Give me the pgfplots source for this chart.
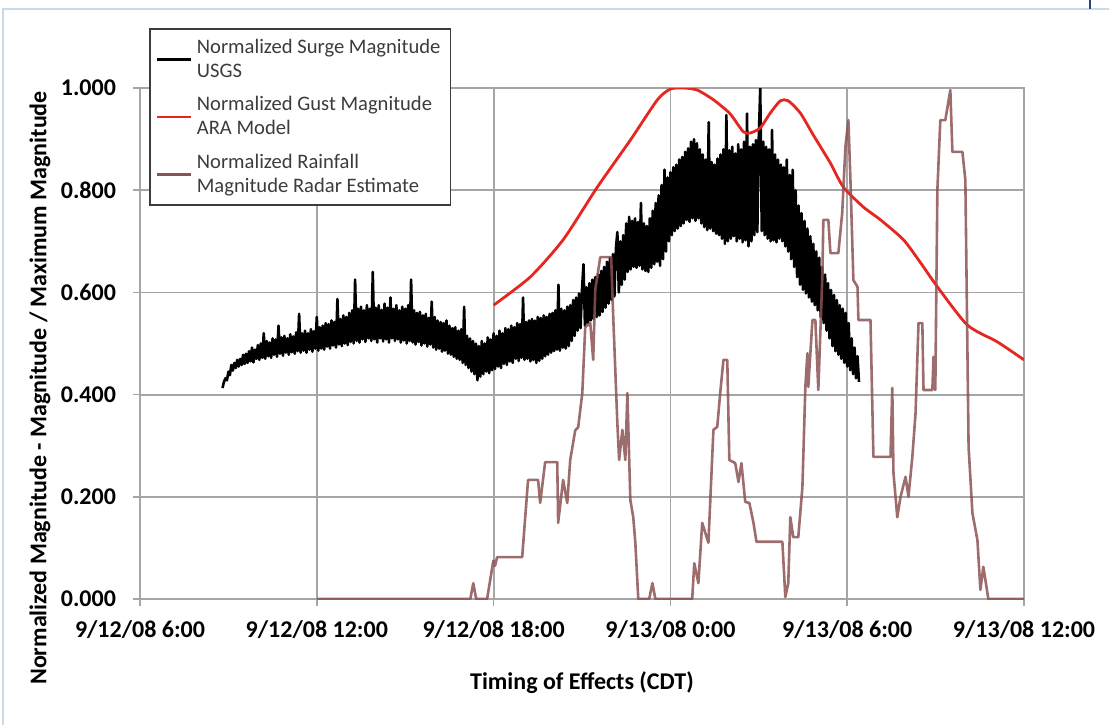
\documentclass[border=0pt]{standalone}
\usepackage{fontspec}
\setmainfont{Carlito}
\usepackage{pgfplots}
\pgfplotsset{compat=1.18}
\definecolor{gustred}{RGB}{230,38,32}
\definecolor{rainbrown}{RGB}{140,82,82}
\definecolor{gridgray}{RGB}{165,165,165}
\definecolor{framblue}{RGB}{200,218,235}
\definecolor{legtext}{RGB}{60,60,60}
\definecolor{markblue}{RGB}{40,70,120}
\begin{document}
\begin{tikzpicture}
\path[use as bounding box] (-70pt,-63pt) rectangle (484.5pt,299.5pt);
\draw[framblue,line width=0.8pt] (-68.5pt,-63pt) -- (-68.5pt,295pt) -- (484.5pt,295pt);
\draw[markblue,line width=0.6pt] (475pt,295pt) -- (475pt,299.5pt);
\begin{axis}[
  scale only axis,
  width=442pt, height=255.5pt,
  at={(0,0)}, anchor=south west,
  xmin=6, xmax=36, ymin=0, ymax=1,
  xtick={6,12,18,24,30,36},
  xticklabels={9/12/08 6:00,9/12/08 12:00,9/12/08 18:00,9/13/08 0:00,9/13/08 6:00,9/13/08 12:00},
  ytick={0,0.2,0.4,0.6,0.8,1},
  yticklabel style={xshift=-5pt, /pgf/number format/.cd,fixed,fixed zerofill,precision=3,assume math mode=true},
  ticklabel style={font=\fontsize{12}{14}\selectfont\bfseries},
  xticklabel style={yshift=-4pt},
  tick align=center, tick pos=left,
  major tick length=7pt,
  tick style={gridgray, line width=0.8pt},
  grid=major,
  major grid style={gridgray, line width=0.9pt},
  axis line style={gridgray, line width=0.9pt},
  xlabel={Timing of Effects (CDT)},
  ylabel={Normalized Magnitude - Magnitude / Maximum Magnitude},
  label style={font=\fontsize{12}{14}\selectfont\bfseries},
  xlabel style={at={(axis description cs:0.5,-0.164)}, anchor=center},
  ylabel style={at={(axis description cs:-0.113,0.413)}, anchor=center},
  legend style={at={(0.0102,1.117)}, anchor=north west, draw=legtext, line width=0.9pt, fill=white,
    font=\fontsize{10.3}{12}\selectfont, text=legtext, cells={align=left, anchor=west},
    row sep=4pt, inner xsep=3pt, inner ysep=3pt},
  legend cell align=left,
  legend image code/.code={\draw[#1, line width=1.4pt, opacity=1] (0cm,0cm) -- (0.6cm,0cm);},
  clip=true,
]
% Surge (black)
\addplot[black, line width=1.3pt, line join=round] coordinates {
(8.80,0.413) (8.85,0.425) (8.90,0.432) (8.95,0.428) (9.00,0.445) (9.05,0.438) (9.10,0.458) (9.15,0.447) (9.20,0.462) (9.25,0.452)
(9.30,0.468) (9.35,0.455) (9.40,0.470) (9.45,0.458) (9.50,0.478) (9.55,0.460) (9.60,0.480) (9.65,0.462) (9.70,0.485) (9.75,0.465)
(9.80,0.492) (9.85,0.463) (9.90,0.488) (9.95,0.470) (10.00,0.497) (10.05,0.468) (10.10,0.500) (10.15,0.472) (10.20,0.520) (10.25,0.470)
(10.30,0.505) (10.35,0.475) (10.40,0.502) (10.45,0.472) (10.50,0.510) (10.55,0.478) (10.60,0.508) (10.65,0.474) (10.70,0.535) (10.75,0.480)
(10.80,0.512) (10.85,0.476) (10.90,0.515) (10.95,0.482) (11.00,0.510) (11.05,0.478) (11.10,0.518) (11.15,0.483) (11.20,0.514) (11.25,0.480)
(11.30,0.522) (11.35,0.485) (11.40,0.558) (11.45,0.482) (11.50,0.520) (11.55,0.486) (11.60,0.525) (11.65,0.482) (11.70,0.520) (11.75,0.488)
(11.80,0.528) (11.85,0.484) (11.90,0.524) (11.95,0.490) (12.00,0.552) (12.05,0.486)
(12.10,0.532) (12.15,0.490) (12.20,0.535) (12.25,0.488) (12.30,0.540) (12.35,0.494) (12.40,0.538) (12.45,0.490) (12.50,0.545) (12.55,0.496)
(12.60,0.542) (12.65,0.492) (12.70,0.587) (12.75,0.498) (12.80,0.548) (12.85,0.495) (12.90,0.555) (12.95,0.500) (13.00,0.552) (13.05,0.497)
(13.10,0.560) (13.15,0.503) (13.20,0.565) (13.25,0.500) (13.30,0.625) (13.35,0.505) (13.40,0.568) (13.45,0.502) (13.50,0.572) (13.55,0.508)
(13.60,0.565) (13.65,0.503) (13.70,0.575) (13.75,0.510) (13.80,0.568) (13.85,0.505) (13.90,0.640) (13.95,0.508) (14.00,0.570) (14.05,0.502)
(14.10,0.575) (14.15,0.510) (14.20,0.566) (14.25,0.504) (14.30,0.578) (14.35,0.508) (14.40,0.570) (14.45,0.502) (14.50,0.590) (14.55,0.510)
(14.60,0.568) (14.65,0.505) (14.70,0.575) (14.75,0.508) (14.80,0.565) (14.85,0.502) (14.90,0.572) (14.95,0.506) (15.00,0.568) (15.05,0.500)
(15.10,0.575) (15.15,0.505) (15.20,0.625) (15.25,0.502) (15.30,0.565) (15.35,0.498) (15.40,0.560) (15.45,0.503) (15.50,0.562) (15.55,0.496)
(15.60,0.555) (15.65,0.500) (15.70,0.558) (15.75,0.494) (15.80,0.550) (15.85,0.498) (15.90,0.582) (15.95,0.492) (16.00,0.552) (16.05,0.488)
(16.10,0.545) (16.15,0.490) (16.20,0.542) (16.25,0.484) (16.30,0.540) (16.35,0.486) (16.40,0.545) (16.45,0.480) (16.50,0.535) (16.55,0.478)
(16.60,0.530) (16.65,0.474) (16.70,0.532) (16.75,0.470) (16.80,0.525) (16.85,0.468) (16.90,0.528) (16.95,0.462) (17.00,0.572) (17.05,0.458)
(17.10,0.515) (17.15,0.452) (17.20,0.510) (17.25,0.445) (17.30,0.505) (17.35,0.440) (17.40,0.500) (17.45,0.428) (17.50,0.495) (17.55,0.435)
(17.60,0.505) (17.65,0.440) (17.70,0.500) (17.75,0.445) (17.80,0.512) (17.85,0.442) (17.90,0.508) (17.95,0.448) (18.00,0.520) (18.05,0.450)
(18.10,0.515) (18.15,0.455) (18.20,0.525) (18.25,0.452) (18.30,0.520) (18.35,0.460) (18.40,0.530) (18.45,0.458) (18.50,0.528) (18.55,0.465)
(18.60,0.535) (18.65,0.462) (18.70,0.532) (18.75,0.470) (18.80,0.540) (18.85,0.466) (18.90,0.538) (18.95,0.472) (19.00,0.590) (19.05,0.468)
(19.10,0.542) (19.15,0.470) (19.20,0.545) (19.25,0.465) (19.30,0.548) (19.35,0.468) (19.40,0.545) (19.45,0.462) (19.50,0.552) (19.55,0.466)
(19.60,0.550) (19.65,0.470) (19.70,0.555) (19.75,0.475) (19.80,0.552) (19.85,0.478) (19.90,0.558) (19.95,0.482) (20.00,0.560) (20.05,0.485)
(20.10,0.565) (20.15,0.488) (20.20,0.615) (20.25,0.486) (20.30,0.568) (20.35,0.492) (20.40,0.565) (20.45,0.490) (20.50,0.572) (20.55,0.495)
(20.60,0.575) (20.65,0.505) (20.70,0.585) (20.75,0.515) (20.80,0.590) (20.85,0.525) (20.90,0.598) (20.95,0.530) (21.00,0.605) (21.05,0.655)
(21.10,0.535) (21.15,0.610) (21.20,0.540) (21.25,0.618) (21.30,0.545) (21.35,0.625) (21.40,0.548) (21.45,0.630) (21.50,0.552) (21.55,0.635)
(21.60,0.555) (21.65,0.642) (21.70,0.562) (21.75,0.650) (21.80,0.570) (21.85,0.660) (21.90,0.578) (21.95,0.668) (22.00,0.585) (22.05,0.675)
(22.10,0.592) (22.15,0.685) (22.20,0.718) (22.25,0.600)
(22.30,0.700) (22.35,0.615) (22.40,0.712) (22.45,0.625) (22.50,0.735) (22.55,0.640) (22.60,0.748) (22.65,0.645) (22.70,0.740) (22.75,0.650)
(22.80,0.745) (22.85,0.648) (22.90,0.738) (22.95,0.652) (23.00,0.775) (23.05,0.645) (23.10,0.735) (23.15,0.642) (23.20,0.730) (23.25,0.640)
(23.30,0.745) (23.35,0.648) (23.40,0.760) (23.45,0.655) (23.50,0.775) (23.55,0.660) (23.60,0.790) (23.65,0.652) (23.70,0.810) (23.75,0.665)
(23.80,0.840) (23.85,0.680) (23.90,0.825) (23.95,0.700) (24.00,0.835) (24.05,0.712) (24.10,0.845) (24.15,0.720) (24.20,0.850) (24.25,0.725)
(24.30,0.860) (24.35,0.730) (24.40,0.865) (24.45,0.735) (24.50,0.875) (24.55,0.742) (24.60,0.882) (24.65,0.738) (24.70,0.895) (24.75,0.745)
(24.80,0.900) (24.85,0.740) (24.90,0.892) (24.95,0.745) (25.00,0.880) (25.05,0.735) (25.10,0.870) (25.15,0.728) (25.20,0.860) (25.25,0.722)
(25.30,0.933) (25.35,0.725) (25.40,0.855) (25.45,0.720) (25.50,0.850) (25.55,0.715) (25.60,0.862) (25.65,0.712) (25.70,0.870) (25.75,0.705)
(25.80,0.880) (25.85,0.695) (25.90,0.947) (25.95,0.700) (26.00,0.878) (26.05,0.705) (26.10,0.885) (26.15,0.710) (26.20,0.872) (26.25,0.700)
(26.30,0.890) (26.35,0.705) (26.40,0.880) (26.45,0.698) (26.50,0.895) (26.55,0.702) (26.60,0.950) (26.65,0.690) (26.70,0.885) (26.75,0.700)
(26.80,0.890) (26.85,0.712) (26.90,0.898) (26.95,0.718) (27.00,0.905) (27.05,1.000) (27.10,0.720) (27.15,0.895) (27.20,0.712) (27.25,0.885)
(27.30,0.705) (27.35,0.880) (27.40,0.700) (27.45,0.918) (27.50,0.702) (27.55,0.870) (27.60,0.698) (27.65,0.860) (27.70,0.705) (27.75,0.850)
(27.80,0.700) (27.85,0.845) (27.90,0.690) (27.95,0.860) (28.00,0.680)
(28.05,0.830) (28.10,0.665) (28.15,0.840) (28.20,0.650) (28.25,0.800) (28.30,0.630) (28.35,0.770) (28.40,0.615) (28.45,0.755) (28.50,0.605)
(28.55,0.740) (28.60,0.598) (28.65,0.725) (28.70,0.590) (28.75,0.710) (28.80,0.582) (28.85,0.695) (28.90,0.575) (28.95,0.680) (29.00,0.565)
(29.05,0.668) (29.10,0.552) (29.15,0.650) (29.20,0.540) (29.25,0.635) (29.30,0.525) (29.35,0.618) (29.40,0.510) (29.45,0.605) (29.50,0.495)
(29.55,0.595) (29.60,0.485) (29.65,0.585) (29.70,0.478) (29.75,0.575) (29.80,0.470) (29.85,0.568) (29.90,0.462) (29.95,0.560) (30.00,0.455)
(30.05,0.540) (30.10,0.448) (30.15,0.510) (30.20,0.440) (30.25,0.492) (30.30,0.432) (30.35,0.475) (30.40,0.425)
};
\addlegendentry{Normalized Surge Magnitude\\USGS}
% Gust (red)
\addplot[gustred, line width=1.4pt, line join=round, smooth, tension=0.4] coordinates {
(18.0,0.575) (19.24,0.630) (20.36,0.703) (21.52,0.806) (22.64,0.898) (23.56,0.977) (24.0,0.998) (24.44,1.0)
(24.91,0.996) (25.46,0.977) (25.97,0.953) (26.14,0.941) (26.48,0.914) (26.71,0.912) (27.05,0.922) (27.39,0.951)
(27.73,0.975) (28.0,0.975) (28.41,0.951) (28.85,0.908) (29.43,0.853) (29.87,0.806) (30.55,0.767) (31.13,0.742)
(31.91,0.703) (32.49,0.658) (33.06,0.611) (34.08,0.536) (35.10,0.503) (36.0,0.468)
};
\addlegendentry{Normalized Gust Magnitude\\ARA Model}
% Rainfall (brown)
\addplot[rainbrown, opacity=0.85, line width=1.3pt, line join=round] coordinates {
(12.0,0) (17.21,0) (17.31,0.031) (17.41,0) (17.78,0) (17.99,0.075) (18.05,0.065) (18.12,0.082) (18.97,0.082)
(19.17,0.233) (19.51,0.233) (19.58,0.188) (19.75,0.268) (20.16,0.268) (20.19,0.149) (20.36,0.233) (20.50,0.188)
(20.60,0.272) (20.77,0.330) (20.87,0.336) (21.01,0.403) (21.11,0.532) (21.28,0.540) (21.38,0.468) (21.45,0.605)
(21.62,0.669) (21.99,0.669) (22.06,0.552) (22.20,0.344) (22.26,0.272) (22.37,0.331) (22.47,0.272) (22.54,0.403)
(22.64,0.194) (22.74,0.160) (22.81,0.110) (22.91,0) (23.28,0) (23.39,0.031) (23.49,0) (24.74,0)
(24.81,0.070) (24.95,0.031) (25.08,0.149) (25.29,0.110) (25.46,0.331) (25.59,0.337) (25.69,0.403) (25.80,0.468)
(25.93,0.468) (26.00,0.272) (26.20,0.266) (26.31,0.229) (26.41,0.266) (26.54,0.190) (26.68,0.188) (26.82,0.149)
(26.92,0.112) (27.80,0.112) (27.90,0.004) (28.00,0.031) (28.07,0.160) (28.17,0.121) (28.34,0.121) (28.48,0.219)
(28.58,0.415) (28.65,0.481) (28.68,0.415) (28.82,0.546) (28.92,0.546) (29.02,0.409) (29.16,0.638) (29.19,0.742)
(29.36,0.742) (29.43,0.677) (29.70,0.677) (29.83,0.755) (29.94,0.885) (30.04,0.937) (30.11,0.820) (30.21,0.624)
(30.35,0.611) (30.38,0.546) (30.79,0.546) (30.89,0.278) (31.47,0.278) (31.53,0.413) (31.57,0.247) (31.70,0.160)
(31.81,0.200) (31.98,0.239) (32.08,0.200) (32.21,0.278) (32.32,0.364) (32.42,0.540) (32.55,0.540) (32.59,0.409)
(32.89,0.409) (32.93,0.474) (32.99,0.409) (33.06,0.800) (33.16,0.937) (33.33,0.937) (33.50,0.996) (33.57,0.875)
(33.91,0.875) (34.01,0.820) (34.12,0.297) (34.25,0.168) (34.42,0.115) (34.52,0.018) (34.62,0.063) (34.79,0) (36.0,0)
};
\addlegendentry{Normalized Rainfall\\Magnitude Radar Estimate}
\end{axis}
\end{tikzpicture}
\end{document}
